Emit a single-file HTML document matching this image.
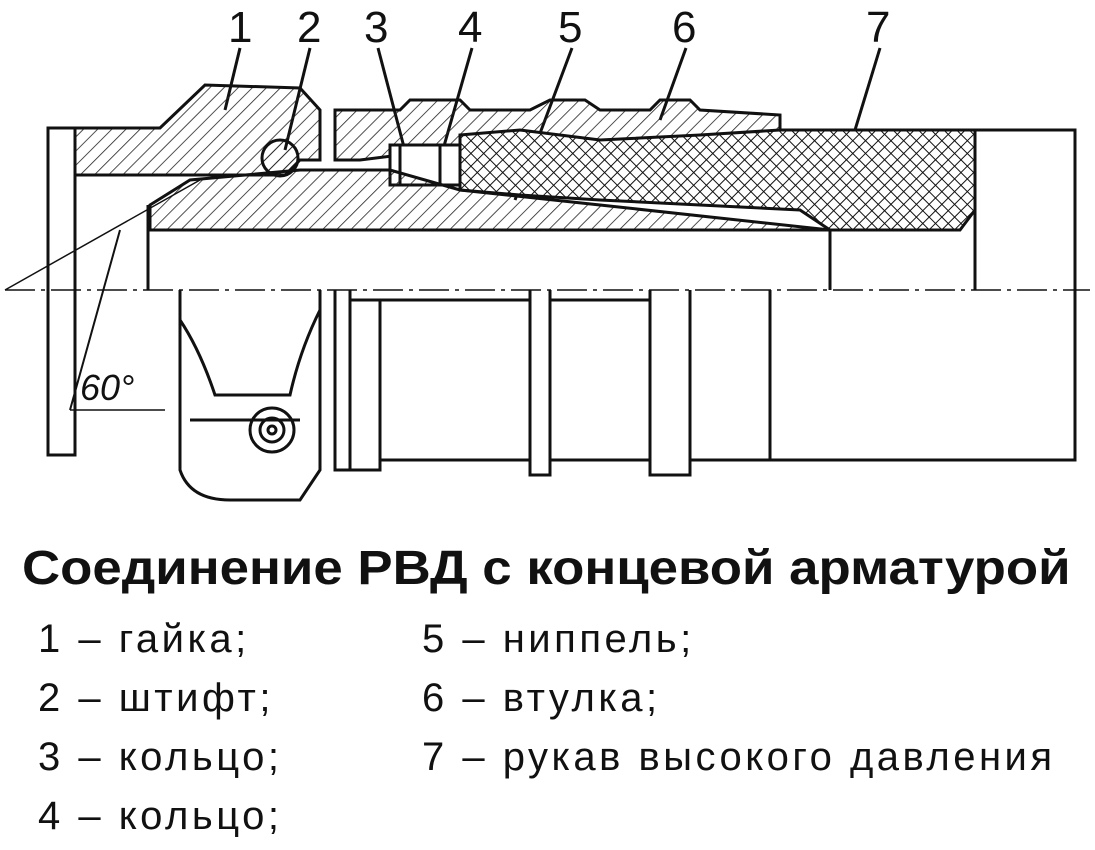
<!DOCTYPE html>
<html><head><meta charset="utf-8"><style>
html,body{margin:0;padding:0;background:#fff;width:1095px;height:850px;overflow:hidden}
.t{position:absolute;font-family:"Liberation Sans","DejaVu Sans",sans-serif;color:#111;white-space:nowrap;transform-origin:0 0}
</style></head><body>
<svg width="1095" height="520" style="position:absolute;left:0;top:0" xmlns="http://www.w3.org/2000/svg">
<defs>
<pattern id="h" width="10" height="10" patternUnits="userSpaceOnUse" patternTransform="rotate(45)"><line x1="0" y1="0" x2="0" y2="10" stroke="#222" stroke-width="1.6"/></pattern>
<pattern id="x" width="9" height="9" patternUnits="userSpaceOnUse" patternTransform="rotate(45)"><rect width="9" height="9" fill="#fff"/><line x1="0" y1="0" x2="0" y2="9" stroke="#111" stroke-width="2"/><line x1="0" y1="0" x2="9" y2="0" stroke="#111" stroke-width="2"/></pattern>
</defs>
<g font-family="Liberation Sans,sans-serif" font-size="44" fill="#111">
<text x="228" y="42">1</text><text x="297" y="42">2</text><text x="364" y="42">3</text><text x="458" y="42">4</text><text x="558" y="42">5</text><text x="672" y="42">6</text><text x="866" y="42">7</text>
</g>
<g stroke="#111" stroke-width="3" fill="none">
<line x1="240" y1="48" x2="225" y2="110"/><line x1="310" y1="48" x2="285" y2="150"/><line x1="378" y1="48" x2="410" y2="170"/><line x1="472" y1="48" x2="440" y2="160"/><line x1="572" y1="48" x2="515" y2="200"/><line x1="686" y1="48" x2="660" y2="120"/><line x1="880" y1="48" x2="855" y2="130"/>
<path d="M48 128 L160 128 L205 85 L300 88 L320 110 L320 160 L300 160 L285 175 L75 175 L48 150 Z" fill="url(#h)"/>
<rect x="48" y="128" width="27" height="327" fill="#fff"/>
<path d="M75 175 L75 455 L48 455"/>
<circle cx="280" cy="158" r="18" fill="url(#h)"/>
<path d="M335 110 L400 110 L410 100 L460 100 L470 110 L530 110 L550 100 L585 100 L600 110 L650 110 L660 100 L690 100 L700 110 L780 115 L780 130 L830 130 L760 160 L700 150 L600 150 L520 150 L460 160 L400 155 L360 160 L335 160 Z" fill="url(#h)"/>
<path d="M460 135 L520 130 L600 140 L700 135 L780 130 L975 130 L975 210 L960 230 L830 230 L800 210 L700 205 L600 200 L520 195 L460 190 Z" fill="url(#x)"/>
<rect x="390" y="145" width="70" height="40" fill="#fff"/>
<line x1="400" y1="145" x2="400" y2="185"/><line x1="440" y1="145" x2="440" y2="185"/>
<path d="M150 205 L190 180 L300 170 L390 170 L460 190 L600 205 L830 230 L150 230 Z" fill="url(#h)"/>
<path d="M830 130 L1075 130 L1075 460 L770 460"/>
<line x1="830" y1="230" x2="830" y2="290"/><line x1="975" y1="210" x2="975" y2="290"/>
<line x1="148" y1="230" x2="830" y2="230"/>
<line x1="148" y1="205" x2="148" y2="290"/>
<path d="M180 290 L180 470 Q190 500 230 500 L300 500 L320 470 L320 290"/>
<path d="M180 320 Q200 350 215 395 L290 395 Q300 350 320 310"/>
<path d="M190 420 L300 420"/>
<circle cx="272" cy="430" r="22"/><circle cx="272" cy="430" r="12"/><circle cx="272" cy="430" r="4"/>
<path d="M335 290 L335 470 L350 470 L350 290 M350 300 L380 300 L380 470 L350 470"/>
<path d="M380 460 L530 460 L530 300 M380 300 L530 300 M530 290 L530 475 L550 475 L550 290 M550 460 L650 460 L650 300 L550 300 M650 290 L650 475 L690 475 L690 290 M690 460 L770 460 L770 290"/>
</g>
<line x1="5" y1="290" x2="1090" y2="290" stroke="#111" stroke-width="1.5" stroke-dasharray="30 6 4 6"/>
<line x1="5" y1="290" x2="200" y2="180" stroke="#111" stroke-width="1.5"/>
<path d="M70 410 Q95 320 120 230" stroke="#111" stroke-width="2" fill="none"/>
<line x1="70" y1="410" x2="165" y2="410" stroke="#111" stroke-width="1.5"/>
<text x="80" y="400" font-family="Liberation Sans,sans-serif" font-style="italic" font-size="36" fill="#111">60°</text>
</svg>
<div class="t" style="left:22px;top:541px;font-size:48px;font-weight:bold;transform:scaleX(1.1)">Соединение РВД с концевой арматурой</div>
<div class="t" style="left:38px;top:610px;font-size:40px;line-height:59px;letter-spacing:3.5px">1 – гайка;<br>2 – штифт;<br>3 – кольцо;<br>4 – кольцо;</div>
<div class="t" style="left:422px;top:610px;font-size:40px;line-height:59px;letter-spacing:3.5px">5 – ниппель;<br>6 – втулка;<br>7 – рукав высокого давления</div>
</body></html>
